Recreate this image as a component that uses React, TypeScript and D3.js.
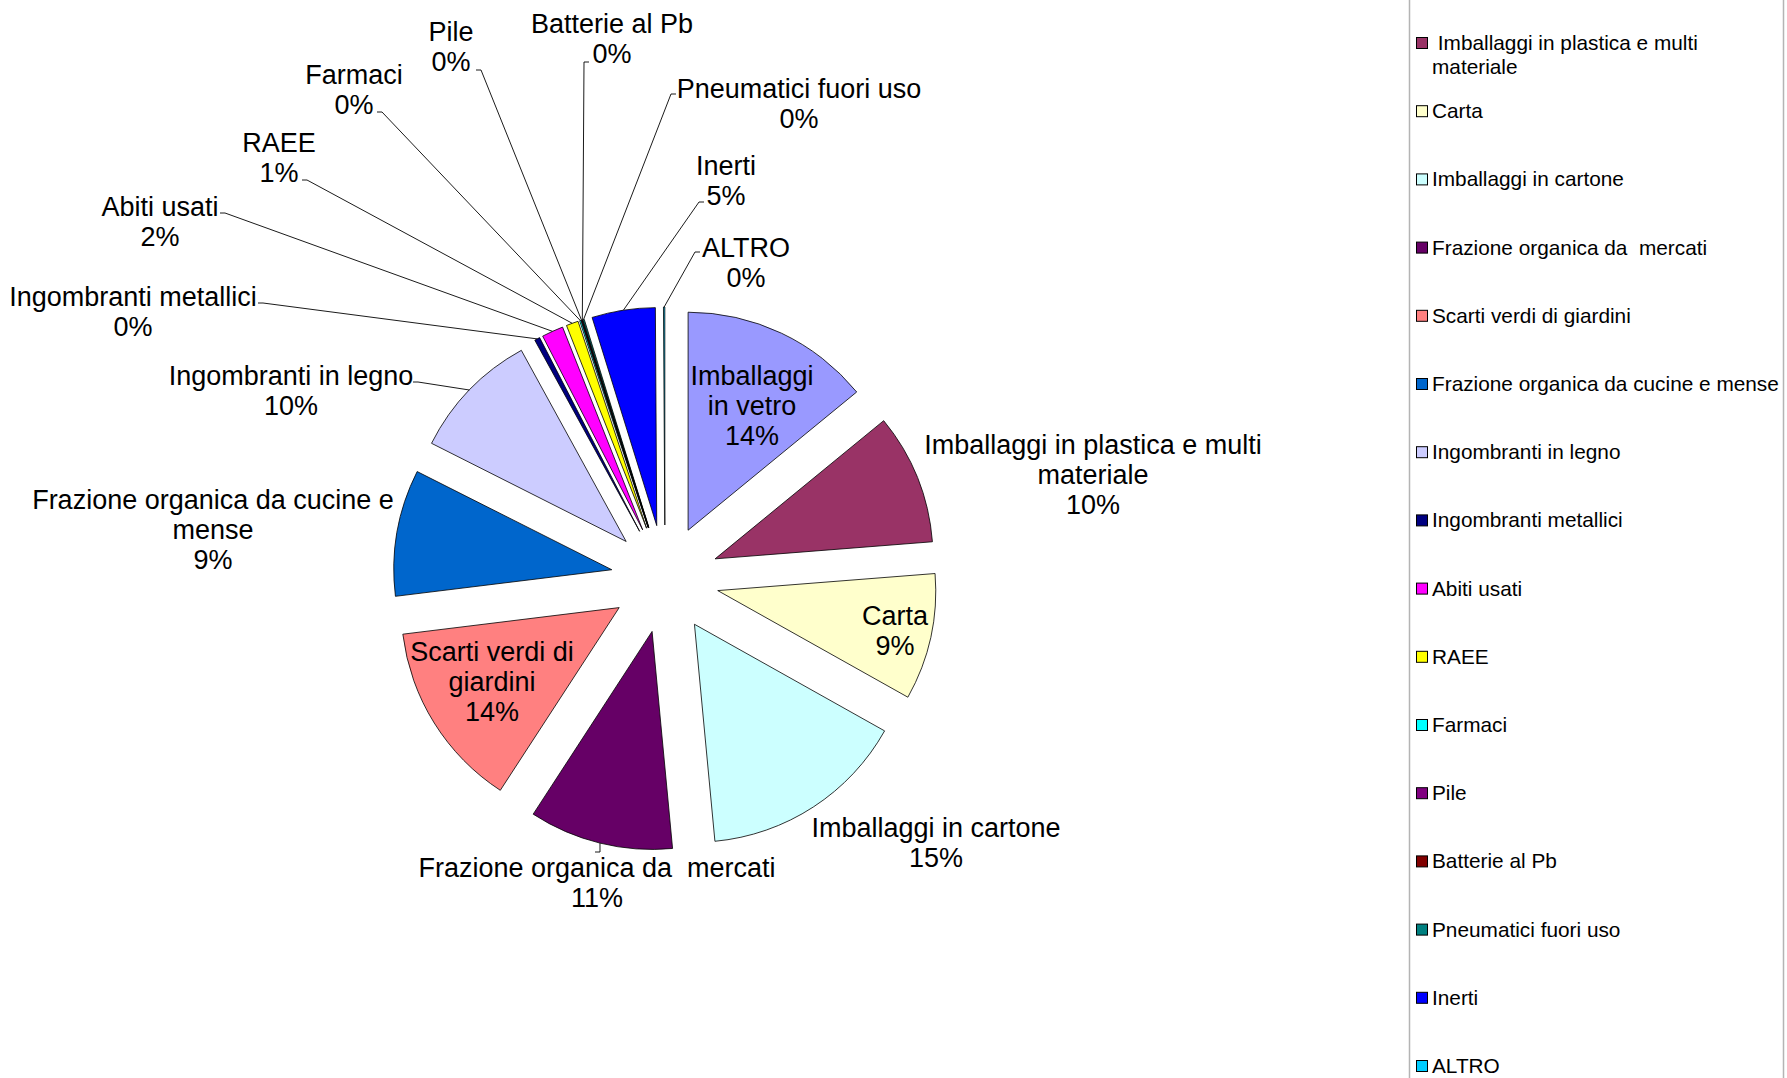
import React from "react";
import * as d3 from "d3";

// categories in pie order (clockwise from 12 o'clock)
const categories = [
  "Imballaggi in vetro",
  "Imballaggi in plastica e multi materiale",
  "Carta",
  "Imballaggi in cartone",
  "Frazione organica da  mercati",
  "Scarti verdi di giardini",
  "Frazione organica da cucine e mense",
  "Ingombranti in legno",
  "Ingombranti metallici",
  "Abiti usati",
  "RAEE",
  "Farmaci",
  "Pile",
  "Batterie al Pb",
  "Pneumatici fuori uso",
  "Inerti",
  "ALTRO",
];

// share of each category (percent)
const values = [14.1, 9.7, 9.4, 15.4, 10.7, 13.9, 9.4, 9.6, 0.4, 1.6, 0.9, 0.1, 0.05, 0.05, 0.1, 4.7, 0.1];

const colors = [
  "#9999FF", "#993366", "#FFFFCC", "#CCFFFF", "#660066", "#FF8080", "#0066CC", "#CCCCFF",
  "#000080", "#FF00FF", "#FFFF00", "#00FFFF", "#800080", "#800000", "#008080", "#0000FF", "#00CCFF",
];

// legend entries (the first one is scrolled out of the visible area)
const legendLabels = [
  [" Imballaggi in plastica e multi", "materiale"],
  ["Carta"], ["Imballaggi in cartone"], ["Frazione organica da  mercati"], ["Scarti verdi di giardini"],
  ["Frazione organica da cucine e mense"], ["Ingombranti in legno"], ["Ingombranti metallici"],
  ["Abiti usati"], ["RAEE"], ["Farmaci"], ["Pile"], ["Batterie al Pb"], ["Pneumatici fuori uso"],
  ["Inerti"], ["ALTRO"],
];

// how the data labels wrap
const labelLines = [
  ["Imballaggi", "in vetro"],
  ["Imballaggi in plastica e multi", "materiale"],
  ["Carta"], ["Imballaggi in cartone"], ["Frazione organica da  mercati"],
  ["Scarti verdi di", "giardini"],
  ["Frazione organica da cucine e", "mense"],
  ["Ingombranti in legno"], ["Ingombranti metallici"], ["Abiti usati"], ["RAEE"], ["Farmaci"],
  ["Pile"], ["Batterie al Pb"], ["Pneumatici fuori uso"], ["Inerti"], ["ALTRO"],
];

// label placement: x center, first baseline, optional leader start
const labelPos: { x: number; y: number; lead?: [number, number] }[] = [
  { x: 752, y: 385 },
  { x: 1093, y: 454 },
  { x: 895, y: 625 },
  { x: 936, y: 837 },
  { x: 597, y: 877, lead: [595, 852] },
  { x: 492, y: 661 },
  { x: 213, y: 509 },
  { x: 291, y: 385, lead: [413, 382] },
  { x: 133, y: 306, lead: [258, 303] },
  { x: 160, y: 216, lead: [220, 213] },
  { x: 279, y: 152, lead: [302, 180] },
  { x: 354, y: 84, lead: [377, 112] },
  { x: 451, y: 41, lead: [476, 70] },
  { x: 612, y: 33, lead: [589, 62] },
  { x: 799, y: 98, lead: [676, 94] },
  { x: 726, y: 175, lead: [704, 202] },
  { x: 746, y: 257, lead: [700, 252] },
];

const W = 1787, H = 1078;
const cx = 665, cy = 579, R = 218, explode = 54;
const font = "'Liberation Sans', Arial, sans-serif";

export default function App() {
  const total = d3.sum(values);
  const pie = d3.pie<number>().sort(null).value((d) => d)(values);
  const arc = d3.arc<d3.PieArcDatum<number>>().innerRadius(0).outerRadius(R);

  const slices = pie.map((p, i) => {
    const mid = (p.startAngle + p.endAngle) / 2;
    const ox = explode * Math.sin(mid), oy = -explode * Math.cos(mid);
    const edge: [number, number] = [cx + (R + explode) * Math.sin(mid), cy - (R + explode) * Math.cos(mid)];
    return { p, i, ox, oy, edge };
  });

  const lh = 30;

  return (
    <svg width={W} height={H} style={{ position: "absolute", left: 0, top: 0, background: "#fff" }}>
      <rect width={W} height={H} fill="#fff" />
      <g transform={`translate(${cx},${cy})`}>
        {slices.map((s) => (
          <path
            key={s.i}
            d={arc(s.p) || ""}
            transform={`translate(${s.ox},${s.oy})`}
            fill={colors[s.i]}
            stroke="#000"
            strokeWidth={0.8}
            strokeLinejoin="round"
          />
        ))}
      </g>
      {slices.map((s) => {
        const lp = labelPos[s.i];
        if (!lp.lead) return null;
        const [sx, sy] = lp.lead;
        const dir = s.edge[0] > sx ? 1 : -1;
        const vertical = Math.abs(s.edge[0] - sx) < 3;
        const d = vertical
          ? `M${sx},${sy}L${s.edge[0]},${s.edge[1]}`
          : `M${sx},${sy}L${sx + dir * 5},${sy}L${s.edge[0]},${s.edge[1]}`;
        return <path key={"l" + s.i} d={d} fill="none" stroke="#000" strokeWidth={0.9} />;
      })}
      <g fontFamily={font} fontSize={27} fill="#000" textAnchor="middle">
        {slices.map((s) => {
          const lp = labelPos[s.i];
          const lines = [...labelLines[s.i], Math.round((values[s.i] / total) * 100) + "%"];
          return (
            <text key={"t" + s.i} x={lp.x} y={lp.y} style={{ whiteSpace: "pre" }}>
              {lines.map((ln, k) => (
                <tspan key={k} x={lp.x} dy={k === 0 ? 0 : lh}>
                  {ln}
                </tspan>
              ))}
            </text>
          );
        })}
      </g>
      {/* legend */}
      <line x1={1409.5} y1={0} x2={1409.5} y2={H} stroke="#b4b4b4" strokeWidth={1.5} />
      <line x1={1783.5} y1={0} x2={1783.5} y2={H} stroke="#b4b4b4" strokeWidth={1.5} />
      <g fontFamily={font} fontSize={20.8} fill="#000">
        {legendLabels.map((lines, j) => {
          const yc = 43 + j * 68.2;
          return (
            <g key={"lg" + j}>
              <rect x={1416.5} y={yc - 5.5} width={11} height={11} fill={colors[j + 1]} stroke="#000" strokeWidth={1} />
              <text x={1432} y={yc + 7} style={{ whiteSpace: "pre" }}>
                {lines.map((ln, k) => (
                  <tspan key={k} x={1432} dy={k === 0 ? 0 : 24}>
                    {ln}
                  </tspan>
                ))}
              </text>
            </g>
          );
        })}
      </g>
    </svg>
  );
}
